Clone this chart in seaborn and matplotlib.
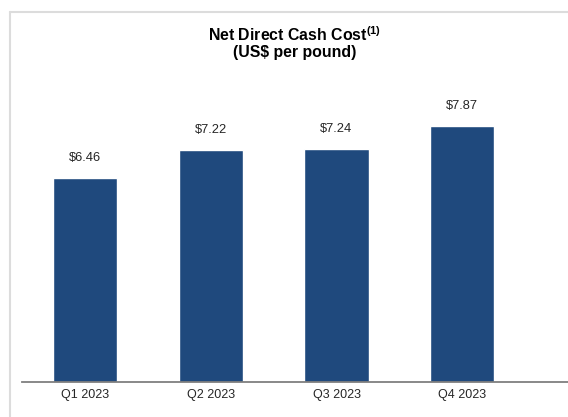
"""
Bar chart of quarterly net direct cash cost (US$ per pound)
"""

import matplotlib
matplotlib.use('Agg')
import matplotlib.pyplot as plt
from matplotlib.lines import Line2D
import pandas as pd
import seaborn as sns

# Chart data
quarters = ['Q1 2023', 'Q2 2023', 'Q3 2023', 'Q4 2023']
cash_cost = [6.46, 7.22, 7.24, 7.87]

BAR_COLOR = '#1F497D'
TEXT_COLOR = '#262626'


def plot_cash_cost(save_path='out.png'):
    """
    Draw the net direct cash cost bars and save them.

    Args:
        save_path: Path to save the plot
    """
    df = pd.DataFrame({'quarter': quarters, 'cost': cash_cost})

    sns.set_theme(style='white')
    plt.rcParams['font.family'] = ['Liberation Sans', 'DejaVu Sans']
    plt.rcParams['mathtext.fontset'] = 'custom'
    plt.rcParams['mathtext.rm'] = 'Liberation Sans'
    plt.rcParams['mathtext.bf'] = 'Liberation Sans:bold'

    fig = plt.figure(figsize=(5.68, 4.17), dpi=100)
    ax = fig.add_axes([0.0387, 0.0839, 0.9613, 0.78])

    sns.barplot(data=df, x='quarter', y='cost', color=BAR_COLOR,
                saturation=1, width=0.51, ax=ax)

    # value labels above each bar
    ax.bar_label(ax.containers[0], labels=[f'${v:.2f}' for v in cash_cost],
                 padding=10, fontsize=9.3, color=TEXT_COLOR)

    ax.set_xlim(-0.5, 3.84)
    ax.set_ylim(1.0, 1.0 + 0.78 * 417 / 37.3)
    ax.set_xlabel('')
    ax.set_ylabel('')
    ax.set_yticks([])
    ax.tick_params(axis='x', length=0, pad=5, labelsize=9, labelcolor=TEXT_COLOR)

    for side in ['top', 'right', 'left']:
        ax.spines[side].set_visible(False)
    ax.spines['bottom'].set_color('#7f7f7f')
    ax.spines['bottom'].set_linewidth(1.3)

    # title in two lines
    fig.text(0.519, 0.917, r'Net Direct Cash Cost$^{\mathbf{(1)}}$',
             ha='center', va='center', fontsize=11.4, fontweight='bold', color='black')
    fig.text(0.519, 0.874, '(US$ per pound)',
             ha='center', va='center', fontsize=11.4, fontweight='bold', color='black')

    # light frame on the top and left edges
    fig.add_artist(Line2D([10 / 568, 10 / 568], [0, 1 - 12 / 417],
                          transform=fig.transFigure, color='#dcdcdc', lw=1.5))
    fig.add_artist(Line2D([10 / 568, 1], [1 - 12 / 417, 1 - 12 / 417],
                          transform=fig.transFigure, color='#dcdcdc', lw=1.5))

    fig.savefig(save_path, dpi=100)
    plt.close(fig)


def main():
    plot_cash_cost('out.png')


if __name__ == "__main__":
    main()
